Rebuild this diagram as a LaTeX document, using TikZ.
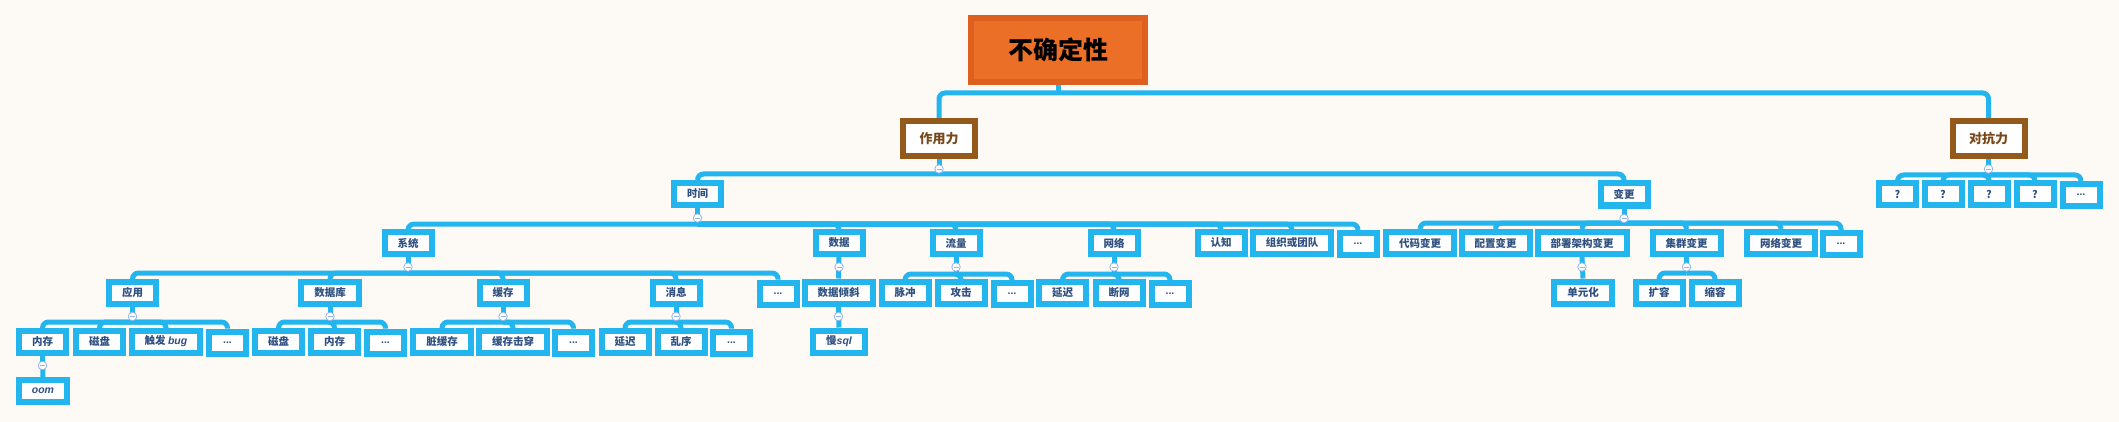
\documentclass[tikz,border=0pt]{standalone}
\usepackage{fontspec}
\setmainfont{Noto Sans CJK SC}
\newfontfamily\latinfont{Liberation Sans}
\usetikzlibrary{backgrounds}

\definecolor{paper}{RGB}{253,249,245}
\definecolor{lineblue}{RGB}{35,181,238}
\definecolor{foldblue}{RGB}{150,180,230}
\definecolor{textblue}{RGB}{47,80,128}
\definecolor{rootfill}{RGB}{236,111,40}
\definecolor{rootdraw}{RGB}{222,96,31}
\definecolor{brown}{RGB}{148,90,28}
\definecolor{browntext}{RGB}{120,72,26}

\begin{document}
\begin{tikzpicture}[
    x=1pt, y=-1pt,
    root/.style={rectangle, draw=rootdraw, fill=rootfill, line width=6pt, minimum width=174pt, minimum height=64pt, inner xsep=37pt, font=\fontsize{25}{28}\selectfont\bfseries, text=black},
    side/.style={rectangle, draw=brown, fill=white, line width=6pt, minimum height=35pt, inner xsep=16.5pt, font=\fontsize{13}{15}\selectfont\bfseries, text=browntext},
    topic/.style={rectangle, draw=lineblue, fill=white, line width=6pt, minimum width=37pt, minimum height=22pt, inner xsep=13pt, inner ysep=2pt, font=\fontsize{10.5}{12}\selectfont\bfseries, text=textblue},
    link/.style={draw=lineblue, line width=5pt, rounded corners=6pt},
    fold/.style={circle, draw=foldblue, fill=white, line width=0.8pt, inner sep=0pt, minimum size=8.5pt,
        path picture={\draw[foldblue, line width=0.9pt] ([xshift=-2.5pt]path picture bounding box.center) -- ([xshift=2.5pt]path picture bounding box.center);}}
]

\useasboundingbox (0,0) rectangle (2119,422);
\begin{scope}[on background layer]
\fill[paper] (0,0) rectangle (2119,422);
\end{scope}

% Root
\node[root] (root) at (1058,50) {不确定性};

% Level 1
\node[side] (act) at (939,138.5) {作用力};
\node[side] (anti) at (1988.5,138.5) {对抗力};

% Level 2
\node[topic] (time) at (697.5,194) {时间};
\node[topic] (change) at (1624,194.5) {变更};
\node[topic] (q1) at (1897.5,194) {?};
\node[topic] (q2) at (1943,194) {?};
\node[topic] (q3) at (1989,194) {?};
\node[topic] (q4) at (2035,194) {?};
\node[topic] (qmore) at (2081,195) {\latinfont ...};

% Level 3: time
\node[topic] (sys) at (408,243) {系统};
\node[topic] (data) at (839,243) {数据};
\node[topic] (flow) at (956,243) {流量};
\node[topic] (net) at (1114,243) {网络};
\node[topic] (cog) at (1221,243) {认知};
\node[topic] (org) at (1292,243) {组织或团队};
\node[topic] (tmore) at (1358,244) {\latinfont ...};

% Level 3: change
\node[topic] (code) at (1420,243) {代码变更};
\node[topic] (conf) at (1495.5,243) {配置变更};
\node[topic] (deploy) at (1582,243) {部署架构变更};
\node[topic] (clus) at (1686.5,243) {集群变更};
\node[topic] (netc) at (1781,243) {网络变更};
\node[topic] (cmore) at (1841,244) {\latinfont ...};

% Level 4
\node[topic] (app) at (132.5,292.5) {应用};
\node[topic] (db) at (330,292.5) {数据库};
\node[topic] (cache) at (503,292.5) {缓存};
\node[topic] (msg) at (676,292.5) {消息};
\node[topic] (smore) at (778,293.5) {\latinfont ...};
\node[topic] (skew) at (838.5,292.5) {数据倾斜};
\node[topic] (pulse) at (905,292.5) {脉冲};
\node[topic] (attack) at (961,292.5) {攻击};
\node[topic] (fmore) at (1012,293.5) {\latinfont ...};
\node[topic] (delay) at (1062.5,292.5) {延迟};
\node[topic] (cut) at (1119,292.5) {断网};
\node[topic] (nmore) at (1170,293.5) {\latinfont ...};
\node[topic] (unit) at (1583,292.5) {单元化};
\node[topic] (expand) at (1659,292.5) {扩容};
\node[topic] (shrink) at (1715,292.5) {缩容};

% Level 5
\node[topic] (mem) at (42.5,341.5) {内存};
\node[topic] (disk) at (99.5,341.5) {磁盘};
\node[topic] (bug) at (166,341.5) {触发 {\latinfont\itshape bug}};
\node[topic] (amore) at (227.5,342.5) {\latinfont ...};
\node[topic] (disk2) at (278.5,341.5) {磁盘};
\node[topic] (mem2) at (334.5,341.5) {内存};
\node[topic] (dmore) at (385.5,342.5) {\latinfont ...};
\node[topic] (dirty) at (442,341.5) {脏缓存};
\node[topic] (pierce) at (513,341.5) {缓存击穿};
\node[topic] (cmore2) at (573.5,342.5) {\latinfont ...};
\node[topic] (delay2) at (625,341.5) {延迟};
\node[topic] (order) at (681,341.5) {乱序};
\node[topic] (mmore) at (731.5,342.5) {\latinfont ...};
\node[topic] (slow) at (839,341.5) {慢{\latinfont\itshape sql}};

% Level 6
\node[topic] (oom) at (43,391) {{\latinfont\itshape oom}};

% Connectors: stub from parent, then one branch per child
\begin{scope}[on background layer]
\draw[link] (root.south) -- (root.south |- 0,93);
\foreach \c in {act,anti} \draw[link] (root.south |- 0,93) -| (\c.north);
\draw[link] (act.south) -- (act.south |- 0,174);
\foreach \c in {time,change} \draw[link] (act.south |- 0,174) -| (\c.north);
\draw[link] (anti.south) -- (anti.south |- 0,175);
\foreach \c in {q1,q2,q3,q4,qmore} \draw[link] (anti.south |- 0,175) -| (\c.north);
\draw[link] (time.south) -- (time.south |- 0,224);
\foreach \c in {sys,data,flow,net,cog,org,tmore} \draw[link] (time.south |- 0,224) -| (\c.north);
\draw[link] (change.south) -- (change.south |- 0,223);
\foreach \c in {code,conf,deploy,clus,netc,cmore} \draw[link] (change.south |- 0,223) -| (\c.north);
\draw[link] (sys.south) -- (sys.south |- 0,273);
\foreach \c in {app,db,cache,msg,smore} \draw[link] (sys.south |- 0,273) -| (\c.north);
\draw[link] (flow.south) -- (flow.south |- 0,274);
\foreach \c in {pulse,attack,fmore} \draw[link] (flow.south |- 0,274) -| (\c.north);
\draw[link] (net.south) -- (net.south |- 0,274);
\foreach \c in {delay,cut,nmore} \draw[link] (net.south |- 0,274) -| (\c.north);
\draw[link] (clus.south) -- (clus.south |- 0,273);
\foreach \c in {expand,shrink} \draw[link] (clus.south |- 0,273) -| (\c.north);
\draw[link] (app.south) -- (app.south |- 0,322);
\foreach \c in {mem,disk,bug,amore} \draw[link] (app.south |- 0,322) -| (\c.north);
\draw[link] (db.south) -- (db.south |- 0,322);
\foreach \c in {disk2,mem2,dmore} \draw[link] (db.south |- 0,322) -| (\c.north);
\draw[link] (cache.south) -- (cache.south |- 0,322);
\foreach \c in {dirty,pierce,cmore2} \draw[link] (cache.south |- 0,322) -| (\c.north);
\draw[link] (msg.south) -- (msg.south |- 0,322);
\foreach \c in {delay2,order,mmore} \draw[link] (msg.south |- 0,322) -| (\c.north);
\draw[link] (data) -- (skew);
\draw[link] (skew) -- (slow);
\draw[link] (deploy.south) -- (unit.north);
\draw[link] (mem) -- (oom);
\end{scope}

% Fold markers
\foreach \n in {act,anti,time,change,sys,data,flow,net,deploy,clus,app,db,cache,msg,skew,mem}
    \node[fold] at ([yshift=-10pt]\n.south) {};

\end{tikzpicture}
\end{document}
